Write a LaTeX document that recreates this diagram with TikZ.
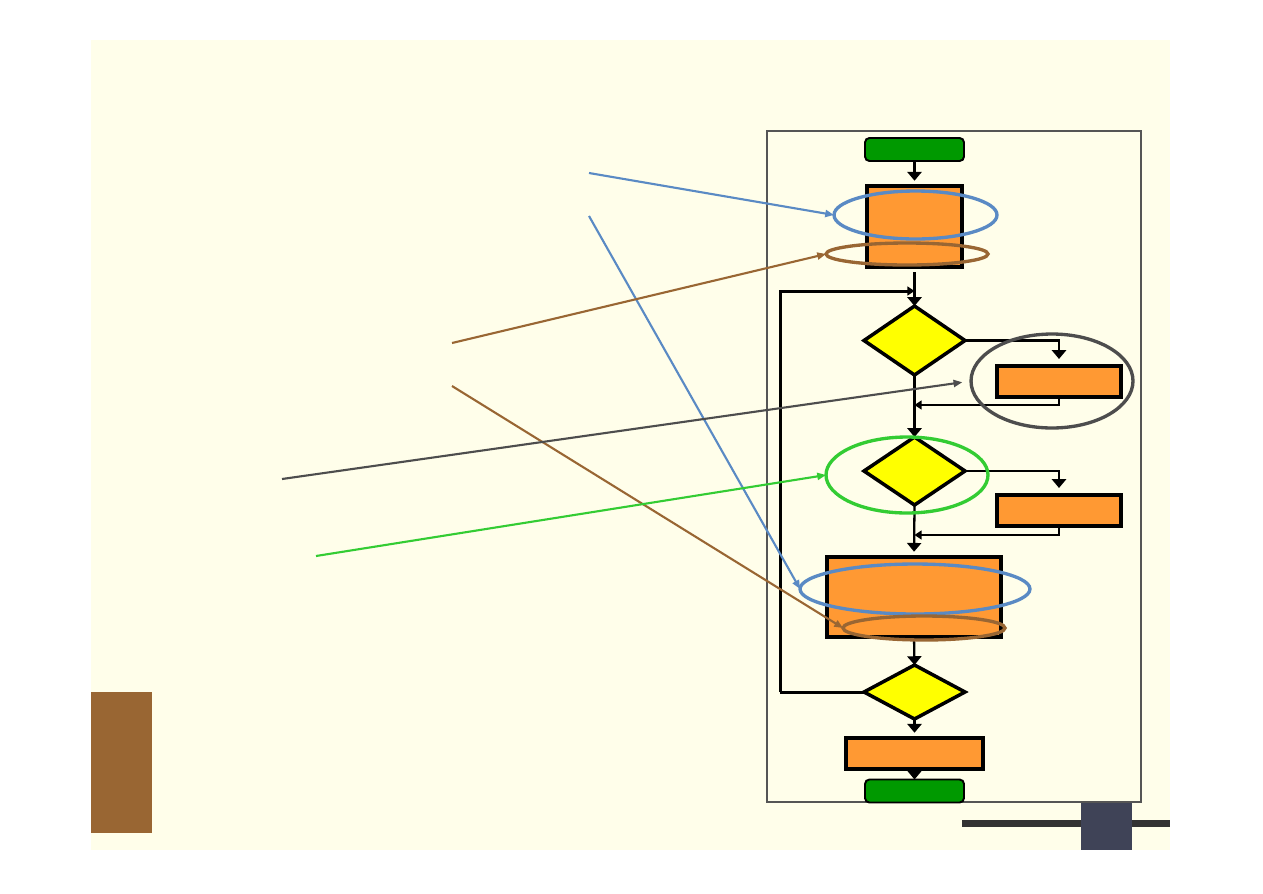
\documentclass[tikz,border=0pt]{standalone}
\usepackage{tikz}
\usetikzlibrary{arrows.meta, positioning, shapes.geometric, calc}
\definecolor{PageCream}{HTML}{FFFEEA}
\definecolor{FlowOrange}{HTML}{FF9933}
\definecolor{FlowGreen}{HTML}{009900}
\definecolor{FlowYellow}{HTML}{FFFF00}
\definecolor{NoteBlue}{HTML}{5A8AC4}
\definecolor{NoteBrown}{HTML}{996633}
\definecolor{NoteGreen}{HTML}{33CC33}
\definecolor{NoteGray}{HTML}{4D4D4D}
\definecolor{FrameGray}{HTML}{555555}
\definecolor{BarDark}{HTML}{333333}
\definecolor{TileSlate}{HTML}{3F4357}

\begin{document}
\begin{tikzpicture}[x=0.02cm, y=-0.02cm,
    proc/.style={draw=black, line width=2pt, fill=FlowOrange, inner sep=0pt, outer sep=0pt},
    term/.style={draw=black, line width=1.1pt, fill=FlowGreen, rounded corners=2.5pt,
        minimum width=1.98cm, minimum height=0.46cm, inner sep=0pt, outer sep=0pt},
    cond/.style={diamond, draw=black, line width=2pt, fill=FlowYellow,
        minimum width=2.02cm, inner sep=0pt, outer sep=0pt},
    ring/.style={ellipse, line width=1.9pt, inner sep=0pt, outer sep=0pt},
    flow/.style={line width=1.3pt, -{Triangle[length=5pt, width=8pt]}},
    back/.style={line width=1pt, -{Triangle[length=4pt, width=5pt]}},
    note/.style={line width=1.2pt, -{Triangle[length=5pt, width=4pt]}}
  ]
  \useasboundingbox (0,0) rectangle (1263,893);
  \fill[white] (0,0) rectangle (1263,893);
  \fill[PageCream] (91,40) rectangle (1170,850);
  \fill[NoteBrown] (91,692) rectangle (152,833);
  \fill[BarDark] (962,820) rectangle (1170,827);
  \fill[TileSlate] (1081,802) rectangle (1132,850);
  \draw[FrameGray, line width=1.1pt] (767,131) rectangle (1141,802);

  % flowchart
  \node[term] (start) at (914.5,149.5) {};
  \node[proc, minimum width=1.9cm, minimum height=1.62cm] (init) at (914.5,226.5) {};
  \node[cond, minimum height=1.38cm] (test1) at (914.5,340.5) {};
  \node[proc, minimum width=2.48cm, minimum height=0.62cm] (stepA) at (1059,381.5) {};
  \node[cond, minimum height=1.36cm] (test2) at (914.5,471) {};
  \node[proc, minimum width=2.48cm, minimum height=0.62cm] (stepB) at (1059,510.5) {};
  \node[proc, minimum width=3.48cm, minimum height=1.6cm] (body) at (914,597) {};
  \node[cond, minimum height=1.08cm] (test3) at (914.5,692) {};
  \node[proc, minimum width=2.74cm, minimum height=0.62cm] (finish) at (914.5,753.5) {};
  \node[term] (stop) at (914.5,791) {};

  \coordinate (joinA) at (914.5,405);
  \coordinate (joinB) at (914.5,535);
  \coordinate (loopcorner) at (780,692);
  \coordinate (loopin) at (914.5,291);

  \draw[flow, shorten >=3pt] (start.south) -- (init.north);
  \draw[flow, shorten <=3pt] (init.south) -- (test1.north);
  \draw[line width=1.7pt] (test3.west) -- (loopcorner);
  \draw[back, line width=1.7pt] (loopcorner) |- (loopin);
  \draw[flow, shorten >=4pt] (test1.east) -| (stepA.north);
  \draw[back] (stepA.south) |- (joinA);
  \draw[flow] (test1.south) -- (test2.north);
  \draw[flow, shorten >=4pt] (test2.east) -| (stepB.north);
  \draw[back] (stepB.south) |- (joinB);
  \draw[flow, shorten >=3pt] (test2.south) -- (body.north);
  \draw[flow] (body.south) -- (test3.north);
  \draw[flow, shorten >=3pt] (test3.south) -- (finish.north);
  \draw[flow] (finish.south) -- (stop.north);

  % highlight rings
  \node[ring, draw=NoteBlue, minimum width=3.26cm, minimum height=0.96cm] (ringA) at (915.5,215) {};
  \node[ring, draw=NoteBrown, minimum width=3.24cm, minimum height=0.44cm] (ringB) at (907,254) {};
  \node[ring, draw=NoteGray, minimum width=3.24cm, minimum height=1.88cm] (ringG) at (1052,381) {};
  \node[ring, draw=NoteGreen, minimum width=3.24cm, minimum height=1.52cm] (ringE) at (907,475) {};
  \node[ring, draw=NoteBlue, minimum width=4.6cm, minimum height=1.0cm] (ringC) at (915,589) {};
  \node[ring, draw=NoteBrown, minimum width=3.24cm, minimum height=0.48cm] (ringD) at (924,628) {};

  % pointers
  \coordinate (tailA) at (589,173);
  \coordinate (tailC) at (589,216);
  \coordinate (tailB) at (452,343);
  \coordinate (tailD) at (452,386);
  \coordinate (tailG) at (282,479);
  \coordinate (tailE) at (316,556);
  \draw[note, NoteBlue] (tailA) -- (ringA.west);
  \draw[note, NoteBlue] (tailC) -- (ringC.west);
  \draw[note, NoteBrown] (tailB) -- (ringB.west);
  \draw[note, NoteBrown] (tailD) -- (ringD.west);
  \draw[note, NoteGray, shorten >=5pt] (tailG) -- (ringG.west);
  \draw[note, NoteGreen] (tailE) -- (ringE.west);
\end{tikzpicture}
\end{document}
